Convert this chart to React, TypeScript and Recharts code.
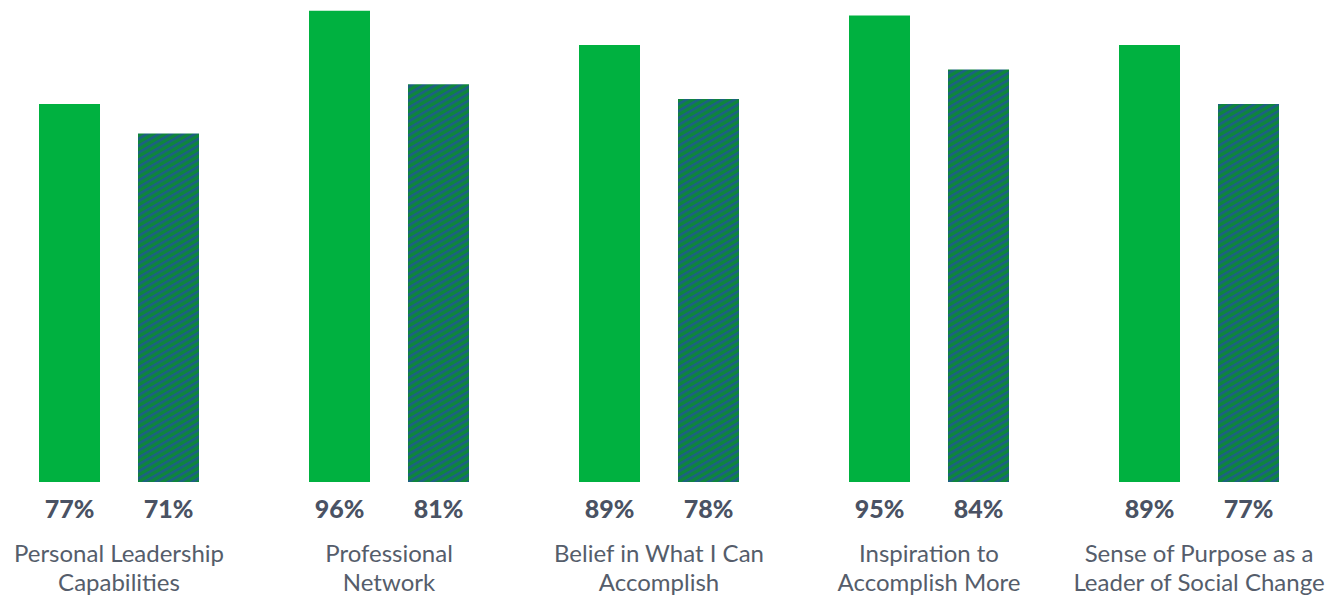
import { BarChart, Bar, XAxis, YAxis, LabelList } from "recharts";

const categories = [
  "Personal Leadership\nCapabilities",
  "Professional\nNetwork",
  "Belief in What I Can\nAccomplish",
  "Inspiration to\nAccomplish More",
  "Sense of Purpose as a\nLeader of Social Change",
];
const seriesA = [77, 96, 89, 95, 89];
const seriesB = [71, 81, 78, 84, 77];

const data = categories.map((name, i) => ({ name, a: seriesA[i], b: seriesB[i] }));

const TEXT_DARK = "#4a5263";
const TEXT_LIGHT = "#555d6b";

const CategoryTick = ({ x, y, payload }: { x: number; y: number; payload: { value: string } }) => {
  const lines = String(payload.value).split("\n");
  return (
    <g transform={`translate(${x},${y})`}>
      {lines.map((line, i) => (
        <text
          key={i}
          x={0}
          y={72 + i * 29}
          textAnchor="middle"
          fill={TEXT_LIGHT}
          fontSize={24}
          fontFamily="Lato, sans-serif"
          fontWeight={400}
        >
          {line}
        </text>
      ))}
    </g>
  );
};

const PercentLabel = (props: any) => {
  const { x, y, width, height, value } = props;
  return (
    <text
      x={x + width / 2}
      y={y + height + 36}
      textAnchor="middle"
      fill={TEXT_DARK}
      fontSize={25}
      fontFamily="Lato, sans-serif"
      fontWeight={900}
    >
      {value}%
    </text>
  );
};

export default function App() {
  return (
    <div style={{ position: "absolute", left: -16, top: -9, width: 1350, height: 620 }}>
      <BarChart
        width={1350}
        height={620}
        data={data}
        margin={{ top: 0, right: 0, left: 0, bottom: 0 }}
        barSize={61}
        barGap={38}
      >
        <defs>
          <pattern
            id="hatch"
            patternUnits="userSpaceOnUse"
            width={6}
            height={6}
            patternTransform="rotate(-30)"
          >
            <rect x={0} y={0} width={6} height={6} fill="#0e863b" />
            <rect x={0} y={0} width={6} height={2.6} fill="#1d5f84" />
          </pattern>
        </defs>
        <XAxis
          dataKey="name"
          axisLine={false}
          tickLine={false}
          interval={0}
          height={129}
          tick={(p: any) => <CategoryTick {...p} />}
        />
        <YAxis hide domain={[0, 100]} />
        <Bar dataKey="a" fill="#00b140" isAnimationActive={false}>
          <LabelList dataKey="a" content={<PercentLabel />} />
        </Bar>
        <Bar dataKey="b" fill="url(#hatch)" isAnimationActive={false}>
          <LabelList dataKey="b" content={<PercentLabel />} />
        </Bar>
      </BarChart>
    </div>
  );
}
